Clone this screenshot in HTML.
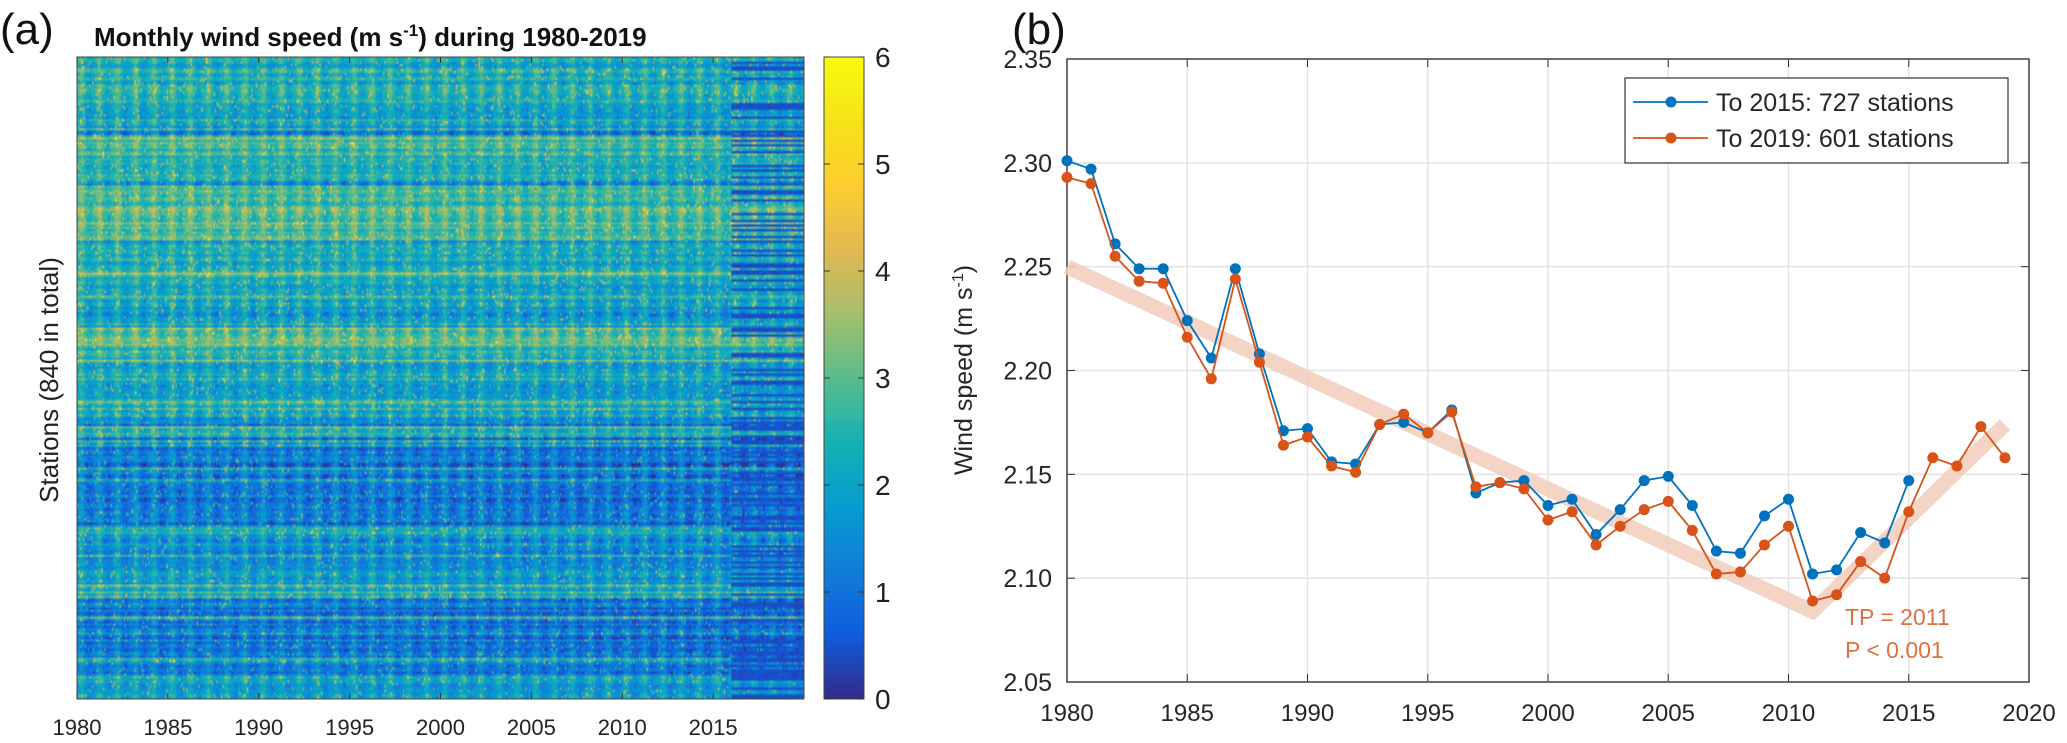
<!DOCTYPE html>
<html><head><meta charset="utf-8"><style>
html,body{margin:0;padding:0;background:#fff;}
#root{position:relative;width:2067px;height:743px;overflow:hidden;font-family:"Liberation Sans",sans-serif;}
svg{position:absolute;left:0;top:0;}
</style></head><body>
<div id="root">
<canvas id="hm" width="480" height="280" style="position:absolute;left:77px;top:57px;width:727px;height:642px;"></canvas>
<svg id="svg" width="2067" height="743"></svg>
</div>
<script>
// ---------- Panel (a) data ----------
const heatYears = [1980,1985,1990,1995,2000,2005,2010,2015];
const bandStarts = [0,0.05,0.07,0.105,0.12,0.19,0.2,0.285,0.29,0.36,0.41,0.42,0.45,0.56,0.575,0.59,0.73,0.74,0.83,0.84,0.87,0.875,0.935,0.94,0.96];
const bandMeans  = [2.3,2.7,2.0,1.3,2.6,1.2,2.9,1.6,2.2,1.9,1.6,3.0,2.1,1.3,2.2,1.1,2.5,1.7,2.5,1.2,2.5,1.2,2.4,1.3,2.0];
const seasonal = [0.1,0.4,0.6,0.6,0.3,0.0,-0.2,-0.3,-0.35,-0.3,-0.1,0.0];
const colorbarTicks = [0,1,2,3,4,5,6];
// ---------- Panel (b) data ----------
const years = [1980,1981,1982,1983,1984,1985,1986,1987,1988,1989,1990,1991,1992,1993,1994,1995,1996,1997,1998,1999,2000,2001,2002,2003,2004,2005,2006,2007,2008,2009,2010,2011,2012,2013,2014,2015,2016,2017,2018,2019];
const blue = [2.301,2.297,2.261,2.249,2.249,2.224,2.206,2.249,2.208,2.171,2.172,2.156,2.155,2.174,2.175,2.170,2.181,2.141,2.146,2.147,2.135,2.138,2.121,2.133,2.147,2.149,2.135,2.113,2.112,2.130,2.138,2.102,2.104,2.122,2.117,2.147];
const orange = [2.293,2.290,2.255,2.243,2.242,2.216,2.196,2.244,2.204,2.164,2.168,2.154,2.151,2.174,2.179,2.170,2.180,2.144,2.146,2.143,2.128,2.132,2.116,2.125,2.133,2.137,2.123,2.102,2.103,2.116,2.125,2.089,2.092,2.108,2.100,2.132,2.158,2.154,2.173,2.158];
const trendYears = [1980,2011,2019];
const trendVals = [2.250,2.084,2.174];
const xTicks = [1980,1985,1990,1995,2000,2005,2010,2015,2020];
const yTicks = [2.05,2.10,2.15,2.20,2.25,2.30,2.35];

const parula=[[53,42,135],[15,92,221],[18,125,216],[7,156,207],[21,177,180],[89,189,140],[165,190,107],[225,185,82],[252,206,46],[245,227,26],[249,251,14]];
function cmap(v){let t=Math.max(0,Math.min(1,v/6))*10;let i=Math.min(9,Math.floor(t));let f=t-i;const a=parula[i],b=parula[i+1];return [a[0]+(b[0]-a[0])*f,a[1]+(b[1]-a[1])*f,a[2]+(b[2]-a[2])*f];}
function hash(a,b){let h=(a*374761393+b*668265263)|0;h=(h^(h>>>13))*1274126177|0;return ((h^(h>>>16))>>>0)/4294967296;}

(function(){
const cv=document.getElementById('hm');const ctx=cv.getContext('2d');
const R=cv.height,C=cv.width;const img=ctx.createImageData(C,R);
for(let r=0;r<R;r++){
  const fr=r/R;let bi=0;for(let k=0;k<bandStarts.length;k++){if(fr>=bandStarts[k])bi=k;}
  const rowOff=(hash(r,7)-0.5)*1.0;
  const amp=0.4+hash(r,3)*1.0;
  const missing=hash(r,11)<0.3;
  const spikeRow=hash(r,5)<0.06;
  for(let c=0;c<C;c++){
    const m=c%12;const yr=Math.floor(c/12);
    let v=bandMeans[bi]+rowOff+seasonal[m]*amp-0.006*yr+(hash(r*31+c,c)-0.5)*0.8;
    if(hash(c,r*7+1)<0.05) v+=1.7;
    if(spikeRow) v+=1.1;
    if(yr>=36&&missing) v=0.3+hash(r,c)*0.3;
    const col=cmap(v);const p=(r*C+c)*4;
    img.data[p]=col[0];img.data[p+1]=col[1];img.data[p+2]=col[2];img.data[p+3]=255;
  }
}
ctx.putImageData(img,0,0);
})();

const NS='http://www.w3.org/2000/svg';const svg=document.getElementById('svg');
function el(tag,attrs,parent){const e=document.createElementNS(NS,tag);for(const k in attrs)e.setAttribute(k,attrs[k]);(parent||svg).appendChild(e);return e;}
function txt(s,attrs,parent){const e=el('text',attrs,parent);e.textContent=s;return e;}

const hx0=77,hx1=804,hy0=57,hy1=699;
const hX=y=>hx0+(y-1980)*(hx1-hx0)/40;
let t=txt('(a)',{x:0,y:44,'font-size':44,fill:'#111'});

t=el('text',{x:94,y:46,'font-size':26,'font-weight':'bold',fill:'#111'});
t.innerHTML='Monthly wind speed (m s<tspan dy="-10" font-size="17">-1</tspan><tspan dy="10">) during 1980-2019</tspan>';

t=txt('Stations (840 in total)',{x:0,y:0,'font-size':26,fill:'#222','text-anchor':'middle',transform:'translate(58,380) rotate(-90)'});

t=el('rect',{x:hx0,y:hy0,width:hx1-hx0,height:hy1-hy0,fill:'none',stroke:'#444','stroke-width':1});

heatYears.forEach(y=>{
  const x=hX(y);
  el('line',{x1:x,y1:hy1,x2:x,y2:hy1-6,stroke:'#333'});el('line',{x1:x,y1:hy0,x2:x,y2:hy0+6,stroke:'#333'});
  const l=txt(String(y),{x:x,y:735,'font-size':22,fill:'#222','text-anchor':'middle'});
  
});
const cbx=824,cbw=40;
const cbY=v=>hy1-(v/6)*(hy1-hy0);
const defs=el('defs',{});const g=el('linearGradient',{id:'par',x1:0,y1:1,x2:0,y2:0},defs);
parula.forEach((c,i)=>el('stop',{offset:(i/10),'stop-color':`rgb(${c[0]},${c[1]},${c[2]})`},g));
t=el('rect',{x:cbx,y:hy0,width:cbw,height:hy1-hy0,fill:'url(#par)',stroke:'#444','stroke-width':1});

colorbarTicks.forEach(v=>{
  const y=cbY(v);
  el('line',{x1:cbx+cbw-6,y1:y,x2:cbx+cbw,y2:y,stroke:'#333'});el('line',{x1:cbx,y1:y,x2:cbx+6,y2:y,stroke:'#333'});
  const l=txt(String(v),{x:875,y:y+10,'font-size':28,fill:'#222'});
  
});

const bx0=1067,bx1=2029,by0=59,by1=682;
const X=y=>bx0+(y-1980)*(bx1-bx0)/40;
const Y=v=>by1-(v-2.05)*(by1-by0)/0.30;
t=txt('(b)',{x:1012,y:44,'font-size':44,fill:'#111'});

xTicks.forEach(y=>{const x=X(y);
  el('line',{x1:x,y1:by0,x2:x,y2:by1,stroke:'#e3e3e3','stroke-width':1.5});
  el('line',{x1:x,y1:by1,x2:x,y2:by1-8,stroke:'#333'});el('line',{x1:x,y1:by0,x2:x,y2:by0+8,stroke:'#333'});
  const l=txt(String(y),{x:x,y:721,'font-size':24,fill:'#262626','text-anchor':'middle'});
  
});
yTicks.forEach(v=>{const y=Y(v);
  el('line',{x1:bx0,y1:y,x2:bx1,y2:y,stroke:'#e3e3e3','stroke-width':1.5});
  el('line',{x1:bx0,y1:y,x2:bx0+8,y2:y,stroke:'#333'});el('line',{x1:bx1,y1:y,x2:bx1-8,y2:y,stroke:'#333'});
  const l=txt(v.toFixed(2),{x:1052,y:y+9,'font-size':25,fill:'#262626','text-anchor':'end'});
  
});
t=el('rect',{x:bx0,y:by0,width:bx1-bx0,height:by1-by0,fill:'none',stroke:'#444','stroke-width':1.5});

t=el('text',{x:0,y:0,'font-size':25,fill:'#262626','text-anchor':'middle',transform:'translate(972,370) rotate(-90)'});
t.innerHTML='Wind speed (m s<tspan dy="-9" font-size="16">-1</tspan><tspan dy="9">)</tspan>';

t=el('polyline',{points:trendYears.map((y,i)=>X(y)+','+Y(trendVals[i])).join(' '),fill:'none',stroke:'#f2cdbb','stroke-width':15,'stroke-linejoin':'miter','stroke-opacity':0.85});

function series(vals,color,name){
  const gg=el('g',{});
  
  el('polyline',{points:vals.map((v,i)=>X(years[i])+','+Y(v)).join(' '),fill:'none',stroke:color,'stroke-width':1.8},gg);
  vals.forEach((v,i)=>{const c=el('circle',{cx:X(years[i]),cy:Y(v),r:5.5,fill:color},gg);
    });
}
series(blue,'#0072BD','series-to-2015');
series(orange,'#D95319','series-to-2019');
t=txt('TP = 2011',{x:1845,y:625,'font-size':23,fill:'#E0703E'});

t=txt('P < 0.001',{x:1845,y:658,'font-size':23,fill:'#E0703E'});

const lg=el('g',{});
el('rect',{x:1625,y:78,width:383,height:85,fill:'#fff',stroke:'#333','stroke-width':1.2},lg);
[['To 2015: 727 stations','#0072BD',102],['To 2019: 601 stations','#D95319',138]].forEach(e=>{
  const eg=el('g',{},lg);
  el('line',{x1:1633,y1:e[2],x2:1708,y2:e[2],stroke:e[1],'stroke-width':1.8},eg);
  el('circle',{cx:1671,cy:e[2],r:5.5,fill:e[1]},eg);
  txt(e[0],{x:1716,y:e[2]+9,'font-size':25,fill:'#262626'},eg);
});
</script>
</body></html>
